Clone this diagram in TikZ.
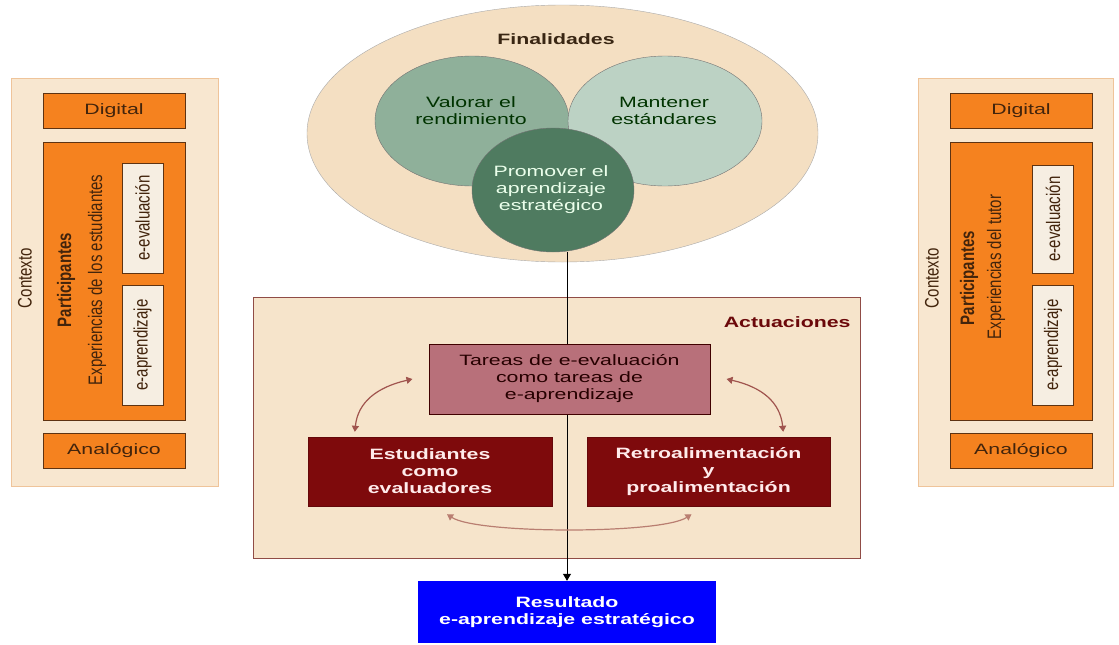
\documentclass[tikz,border=0pt]{standalone}
\usepackage{fontspec}
\setmainfont[FakeStretch=1.42]{Liberation Sans}
\newfontfamily\upfont{Liberation Sans}
\usetikzlibrary{shapes.geometric,arrows.meta}
\definecolor{sand}{HTML}{F4DFC2}
\definecolor{panelfill}{HTML}{F8E7D0}
\definecolor{panelline}{HTML}{EFC49A}
\definecolor{sage}{HTML}{8FB09A}
\definecolor{mist}{HTML}{BCD2C4}
\definecolor{pine}{HTML}{4F7B60}
\definecolor{rose}{HTML}{B8707A}
\definecolor{maroon}{HTML}{7E0A0C}
\definecolor{orng}{HTML}{F5821F}
\definecolor{obrown}{HTML}{5E3312}
\definecolor{cream}{HTML}{F6EEE2}
\definecolor{arrowcol}{HTML}{A0544E}
\colorlet{ecol}{black!55!white}
\newcommand{\txt}{\fontsize{15}{17}\selectfont}
\newcommand{\tall}[1]{\scalebox{1}[1.3]{#1}}
\tikzstyle{goal}=[ellipse, draw=ecol, inner sep=0pt]
\tikzstyle{goaltext}=[font=\txt, align=center, text=black!80!green]
\tikzstyle{panel}=[rectangle, draw=panelline, fill=panelfill, line width=1pt, inner sep=0pt]
\tikzstyle{obox}=[rectangle, draw=obrown, fill=orng, line width=1pt, inner sep=0pt, minimum width=142pt, font=\txt, text=obrown!70!black]
\tikzstyle{wbox}=[rectangle, draw=obrown, fill=cream, line width=1pt, inner sep=0pt, minimum width=41pt]
\tikzstyle{side}=[rotate=90, font=\upfont\fontsize{15}{17}\selectfont, text=obrown!70!black, inner sep=0pt]
\tikzstyle{act}=[rectangle, inner sep=0pt, minimum width=244pt, minimum height=69pt, fill=maroon, draw=maroon!80!black, text=white!92!red, font=\bfseries\txt, align=center]
\tikzstyle{cyc}=[draw=arrowcol, line width=1.2pt, <->, >={Triangle[width=7pt,length=6pt]}]
\tikzstyle{flow}=[draw=black, line width=1pt, ->, >={Triangle[width=8pt,length=7pt]}]

\begin{document}
\begin{tikzpicture}[x=1pt,y=-1pt]
	\useasboundingbox[fill=white] (0,0) rectangle (1119,645);

	% Contexto, left
	\node[panel, minimum width=207pt, minimum height=408pt] (ctxl) at (114.5,282) {};
	\node[obox, minimum height=35pt] (digl) at (114,110.5) {Digital};
	\node[obox, minimum height=278pt] (parl) at (114,281) {};
	\node[obox, minimum height=35pt] (anal) at (114,450.5) {Analógico};
	\node[wbox, minimum height=110pt] (evall) at (142.5,218) {};
	\node[wbox, minimum height=120pt] (aprl) at (142.5,345) {};
	\node[side] at (evall) {\tall{e-evaluación}};
	\node[side] at (aprl) {\tall{e-aprendizaje}};
	\node[side] (ctxlt) at (25,278) {\tall{Contexto}};
	\node[side, font=\upfont\bfseries\fontsize{15}{17}\selectfont] (parlt) at (66,280) {\tall{Participantes}};
	\node[side] (explt) at (97,280) {\tall{Experiencias de los estudiantes}};

	% Contexto, right
	\node[panel, minimum width=195pt, minimum height=408pt] (ctxr) at (1015.5,282) {};
	\node[obox, minimum height=35pt] (digr) at (1021,110.5) {Digital};
	\node[obox, minimum height=278pt] (parr) at (1021,281) {};
	\node[obox, minimum height=35pt] (anar) at (1021,450.5) {Analógico};
	\node[wbox, minimum height=108pt] (evalr) at (1053,219) {};
	\node[wbox, minimum height=120pt] (aprr) at (1053,345) {};
	\node[side] at (evalr) {\tall{e-evaluación}};
	\node[side] at (aprr) {\tall{e-aprendizaje}};
	\node[side] (ctxrt) at (932,278) {\tall{Contexto}};
	\node[side, font=\upfont\bfseries\fontsize{15}{17}\selectfont] (parrt) at (969,278) {\tall{Participantes}};
	\node[side] (exprt) at (996,267) {\tall{Experiencias del tutor}};

	% Finalidades
	\node[goal, fill=sand, draw=ecol!60, minimum width=511pt, minimum height=257pt] (fin) at (562.5,133.5) {};
	\node[font=\bfseries\txt, text=black!70!brown] (fint) at (556,39) {Finalidades};
	\node[goal, fill=sage, minimum width=194pt, minimum height=130pt] (val) at (472,121) {};
	\node[goal, fill=mist, minimum width=194pt, minimum height=130pt] (man) at (665,121) {};
	\node[goal, fill=pine, minimum width=162pt, minimum height=124pt] (prom) at (553,190) {};
	\node[goaltext] (valt) at (471,111) {Valorar el\\rendimiento};
	\node[goaltext] (mant) at (664,111) {Mantener\\estándares};
	\node[goaltext, text=white!92!green] (promt) at (551,190) {Promover el\\aprendizaje\\estratégico};

	% Actuaciones
	\node[rectangle, draw=arrowcol!90!black, fill=sand!85!white, line width=1pt, minimum width=607pt, minimum height=261pt, inner sep=0pt] (actu) at (556.5,427.5) {};
	\node[anchor=east, font=\bfseries\txt, text=maroon!85!black] (actut) at (854,322) {Actuaciones};
	\node[rectangle, fill=blue, inner sep=0pt, minimum width=298pt, minimum height=62pt, text=white, font=\bfseries\txt, align=center] (res) at (567,612) {Resultado\\e-aprendizaje estratégico};
	\draw[flow] (prom.south -| res.north) -- (res.north);
	\node[rectangle, fill=rose, draw=black!75!red, line width=1pt, minimum width=281pt, minimum height=70pt, inner sep=0pt, font=\txt, text=black!85!red, align=center] (tar) at (569.5,379) {Tareas de e-evaluación\\como tareas de\\e-aprendizaje};
	\node[act] (est) at (430,471.5) {Estudiantes\\como\\evaluadores};
	\node[act, minimum width=243pt] (ret) at (708.5,471.5) {Retroalimentación\\y\\proalimentación};

	% Cycle arrows
	\draw[cyc] ([xshift=-16pt]tar.west) .. controls +(-35,8) and +(3,-30) .. ([xshift=47pt,yshift=5pt]est.north west);
	\draw[cyc] ([xshift=16pt]tar.east) .. controls +(35,8) and +(-3,-30) .. ([xshift=-47pt,yshift=5pt]ret.north east);
	\draw[cyc, draw=arrowcol!70!sand] ([xshift=17pt,yshift=-8pt]est.south) .. controls +(30,20) and +(-30,20) .. ([xshift=-17pt,yshift=-8pt]ret.south);
\end{tikzpicture}
\end{document}
